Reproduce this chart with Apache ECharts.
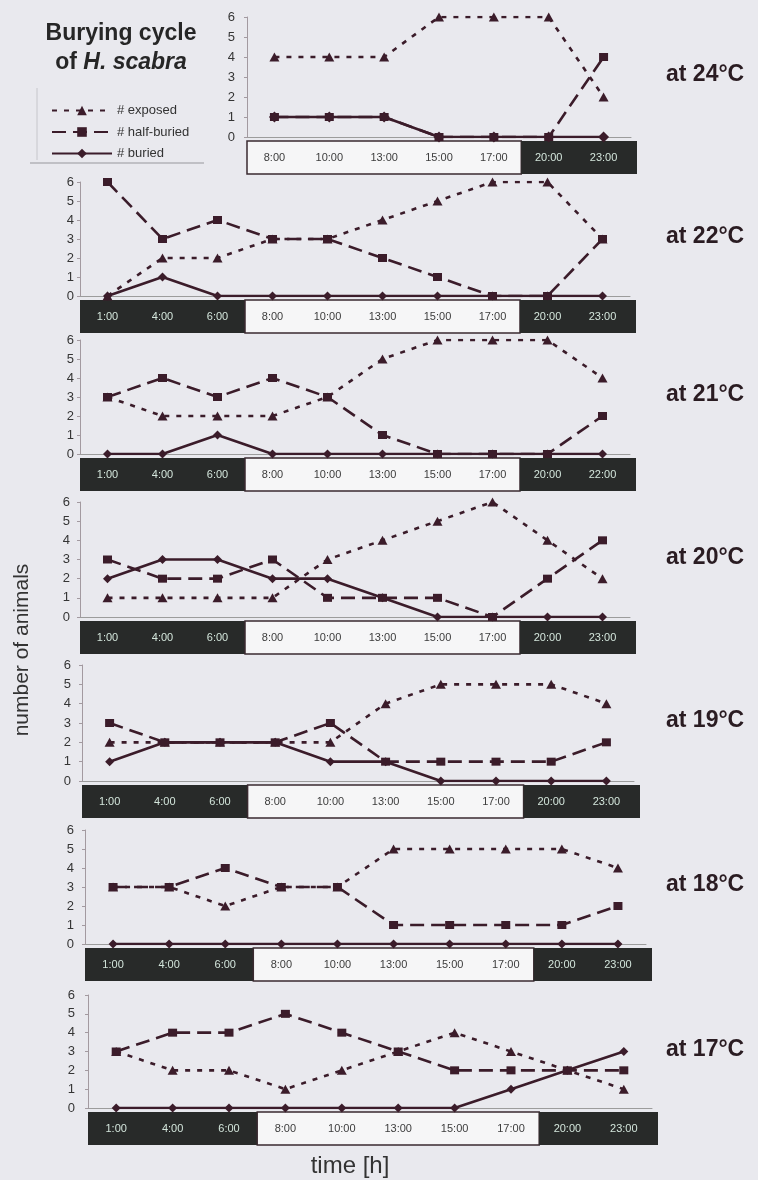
<!DOCTYPE html>
<html>
<head>
<meta charset="utf-8">
<script src="https://cdn.jsdelivr.net/npm/echarts@6/dist/echarts.min.js"></script>
<style>
  html, body { margin: 0; padding: 0; background: #e9e9ee; }
  #chart { width: 758px; height: 1180px; }
</style>
</head>
<body>
<div id="chart"></div>
<script>
// Sampling times (category axes)
const TIMES = ['1:00', '4:00', '6:00', '8:00', '10:00', '13:00', '15:00', '17:00', '20:00', '23:00'];
const TIMES_21 = ['1:00', '4:00', '6:00', '8:00', '10:00', '13:00', '15:00', '17:00', '20:00', '22:00'];
const TIMES_24 = ['8:00', '10:00', '13:00', '15:00', '17:00', '20:00', '23:00'];

// Day / night strips under each time axis: [first index, last index, night?]
const STRIP_FULL = [[0, 2, 1], [3, 7, 0], [8, 9, 1]];
const STRIP_24 = [[0, 4, 0], [5, 6, 1]];

// Number of animals per state
const EXPOSED_24 = [4, 4, 4, 6, 6, 6, 2];
const HALF_24    = [1, 1, 1, 0, 0, 0, 4];
const BURIED_24  = [1, 1, 1, 0, 0, 0, 0];

const EXPOSED_22 = [0, 2, 2, 3, 3, 4, 5, 6, 6, 3];
const HALF_22    = [6, 3, 4, 3, 3, 2, 1, 0, 0, 3];
const BURIED_22  = [0, 1, 0, 0, 0, 0, 0, 0, 0, 0];

const EXPOSED_21 = [3, 2, 2, 2, 3, 5, 6, 6, 6, 4];
const HALF_21    = [3, 4, 3, 4, 3, 1, 0, 0, 0, 2];
const BURIED_21  = [0, 0, 1, 0, 0, 0, 0, 0, 0, 0];

const EXPOSED_20 = [1, 1, 1, 1, 3, 4, 5, 6, 4, 2];
const HALF_20    = [3, 2, 2, 3, 1, 1, 1, 0, 2, 4];
const BURIED_20  = [2, 3, 3, 2, 2, 1, 0, 0, 0, 0];

const EXPOSED_19 = [2, 2, 2, 2, 2, 4, 5, 5, 5, 4];
const HALF_19    = [3, 2, 2, 2, 3, 1, 1, 1, 1, 2];
const BURIED_19  = [1, 2, 2, 2, 1, 1, 0, 0, 0, 0];

const EXPOSED_18 = [3, 3, 2, 3, 3, 5, 5, 5, 5, 4];
const HALF_18    = [3, 3, 4, 3, 3, 1, 1, 1, 1, 2];
const BURIED_18  = [0, 0, 0, 0, 0, 0, 0, 0, 0, 0];

const EXPOSED_17 = [3, 2, 2, 1, 2, 3, 4, 3, 2, 1];
const HALF_17    = [3, 4, 4, 5, 4, 3, 2, 2, 2, 2];
const BURIED_17  = [0, 0, 0, 0, 0, 0, 0, 1, 2, 3];

const Y_TICKS = [0, 1, 2, 3, 4, 5, 6];
const SERIES_NAMES = ['# exposed', '# half-buried', '# buried'];

const panels = [
  { temp: 'at 24°C', times: TIMES_24, strip: STRIP_24,   exposed: EXPOSED_24, half: HALF_24, buried: BURIED_24, buriedOnTop: true },
  { temp: 'at 22°C', times: TIMES,    strip: STRIP_FULL, exposed: EXPOSED_22, half: HALF_22, buried: BURIED_22 },
  { temp: 'at 21°C', times: TIMES_21, strip: STRIP_FULL, exposed: EXPOSED_21, half: HALF_21, buried: BURIED_21 },
  { temp: 'at 20°C', times: TIMES,    strip: STRIP_FULL, exposed: EXPOSED_20, half: HALF_20, buried: BURIED_20 },
  { temp: 'at 19°C', times: TIMES,    strip: STRIP_FULL, exposed: EXPOSED_19, half: HALF_19, buried: BURIED_19 },
  { temp: 'at 18°C', times: TIMES,    strip: STRIP_FULL, exposed: EXPOSED_18, half: HALF_18, buried: BURIED_18 },
  { temp: 'at 17°C', times: TIMES,    strip: STRIP_FULL, exposed: EXPOSED_17, half: HALF_17, buried: BURIED_17 }
];

// Plot frames for the stacked panels
const frames = [
  { left: 247, width: 384, top: 17,  height: 120, labelMargin: 12 },
  { left: 80,  width: 550, top: 182, height: 114, labelMargin: 6 },
  { left: 80,  width: 550, top: 340, height: 114, labelMargin: 6 },
  { left: 80,  width: 550, top: 502, height: 115, labelMargin: 10 },
  { left: 82,  width: 552, top: 665, height: 116, labelMargin: 11 },
  { left: 85,  width: 561, top: 830, height: 114, labelMargin: 11 },
  { left: 88,  width: 564, top: 995, height: 113, labelMargin: 13 }
];

const FONT = '"Liberation Sans", Arial, Helvetica, sans-serif';
const INK = '#3b1c2a';
const AXIS_GRAY = '#a39aa0';
const NIGHT_FILL = '#282a29';
const NIGHT_TEXT = '#d3e5db';
const DAY_FILL = '#f6f6f7';
const DAY_TEXT = '#3c3c3c';

function stripRenderer(times) {
  return function (params, api) {
    const s = api.value(0), e = api.value(1), night = api.value(2) === 1;
    const bw = api.size([1, 0])[0];
    const p0 = api.coord([s, 0]);
    const p1 = api.coord([e, 0]);
    const x0 = p0[0] - bw / 2;
    let x1 = p1[0] + bw / 2;
    if (e === times.length - 1) x1 += 6;
    const y = p0[1] + 4;
    const h = 33;
    const children = [{
      type: 'rect',
      shape: { x: x0, y: y, width: x1 - x0, height: h },
      style: night ? { fill: NIGHT_FILL } : { fill: DAY_FILL, stroke: '#3a2a30', lineWidth: 1.5 }
    }];
    for (let i = s; i <= e; i++) {
      children.push({
        type: 'text',
        x: api.coord([i, 0])[0],
        y: y + h / 2,
        style: {
          text: times[i],
          font: '11px ' + FONT,
          fill: night ? NIGHT_TEXT : DAY_TEXT,
          align: 'center',
          verticalAlign: 'middle'
        }
      });
    }
    return { type: 'group', children: children };
  };
}

const grid = [], xAxis = [], yAxis = [], series = [], graphic = [];

panels.forEach((p, i) => {
  const f = frames[i];
  grid.push({ left: f.left, top: f.top, width: f.width, height: f.height, containLabel: false });
  xAxis.push({
    type: 'category', gridIndex: i, data: p.times, boundaryGap: true,
    axisLine: { show: true, lineStyle: { color: '#9c9c9c', width: 1 } },
    axisTick: { show: false }, axisLabel: { show: false }, splitLine: { show: false }
  });
  yAxis.push({
    type: 'value', gridIndex: i, min: Y_TICKS[0], max: Y_TICKS[Y_TICKS.length - 1], interval: 1,
    axisLine: { show: true, lineStyle: { color: AXIS_GRAY, width: 1 } },
    axisTick: { show: true, length: 3, lineStyle: { color: AXIS_GRAY } },
    axisLabel: { margin: f.labelMargin, fontSize: 13, color: '#353535', fontFamily: FONT },
    splitLine: { show: false }
  });

  series.push({
    type: 'custom', xAxisIndex: i, yAxisIndex: i, clip: false, silent: true, z: 1,
    encode: { x: [0, 1], y: 3 },
    data: p.strip.map(s => [s[0], s[1], s[2], 0]),
    renderItem: stripRenderer(p.times)
  });

  const common = { type: 'line', xAxisIndex: i, yAxisIndex: i, showAllSymbol: true, silent: true,
    itemStyle: { color: INK }, emphasis: { disabled: true } };

  series.push(Object.assign({}, common, {
    name: SERIES_NAMES[0], data: p.exposed, z: 3,
    symbol: 'triangle', symbolSize: [10, 9],
    lineStyle: { color: INK, width: 2.6, type: [5, 7] }
  }));
  series.push(Object.assign({}, common, {
    name: SERIES_NAMES[1], data: p.half, z: p.buriedOnTop ? 4 : 5,
    symbol: 'rect', symbolSize: [9, 8],
    lineStyle: { color: INK, width: 2.6, type: [14, 7] }
  }));
  series.push(Object.assign({}, common, {
    name: SERIES_NAMES[2], data: p.buried, z: p.buriedOnTop ? 5 : 4,
    symbol: 'diamond', symbolSize: p.buriedOnTop ? [11, 11] : [9, 9],
    lineStyle: { color: INK, width: 2.6, type: 'solid' }
  }));

  graphic.push({
    type: 'text', x: 666, y: f.top + f.height / 2 - 2,
    style: { text: p.temp, font: 'bold 23px ' + FONT, fill: '#2a1c22', align: 'left', verticalAlign: 'middle' }
  });
});

// Title block
graphic.push({
  type: 'text', x: 121, y: 34,
  style: { text: 'Burying cycle', font: 'bold 23px ' + FONT, fill: '#262626', align: 'center', verticalAlign: 'middle' }
});
graphic.push({
  type: 'text', x: 121, y: 63,
  style: {
    text: '{n|of }{i|H. scabra}', align: 'center', verticalAlign: 'middle',
    rich: {
      n: { font: 'bold 23px ' + FONT, fill: '#262626' },
      i: { font: 'italic bold 23px ' + FONT, fill: '#262626' }
    }
  }
});
// Legend frame
graphic.push({ type: 'line', shape: { x1: 37, y1: 88, x2: 37, y2: 160 }, style: { stroke: '#c6c6cb', lineWidth: 1 } });
graphic.push({ type: 'line', shape: { x1: 30, y1: 163, x2: 204, y2: 163 }, style: { stroke: '#b2b2b7', lineWidth: 1.5 } });
// Axis titles
graphic.push({
  type: 'text', x: 22, y: 650, rotation: Math.PI / 2,
  style: { text: 'number of animals', font: '21px ' + FONT, fill: '#333', align: 'center', verticalAlign: 'middle' }
});
graphic.push({
  type: 'text', x: 350, y: 1166,
  style: { text: 'time [h]', font: '24px ' + FONT, fill: '#333', align: 'center', verticalAlign: 'middle' }
});

const chart = echarts.init(document.getElementById('chart'), null, { renderer: 'canvas' });
chart.setOption({
  backgroundColor: '#e9e9ee',
  animation: false,
  textStyle: { fontFamily: FONT },
  legend: {
    data: SERIES_NAMES, orient: 'vertical', left: 46, top: 99,
    itemWidth: 60, itemHeight: 12, itemGap: 8.5, selectedMode: false,
    textStyle: { fontSize: 13, color: '#333', fontFamily: FONT }
  },
  grid: grid, xAxis: xAxis, yAxis: yAxis, series: series, graphic: graphic
});
</script>
</body>
</html>
